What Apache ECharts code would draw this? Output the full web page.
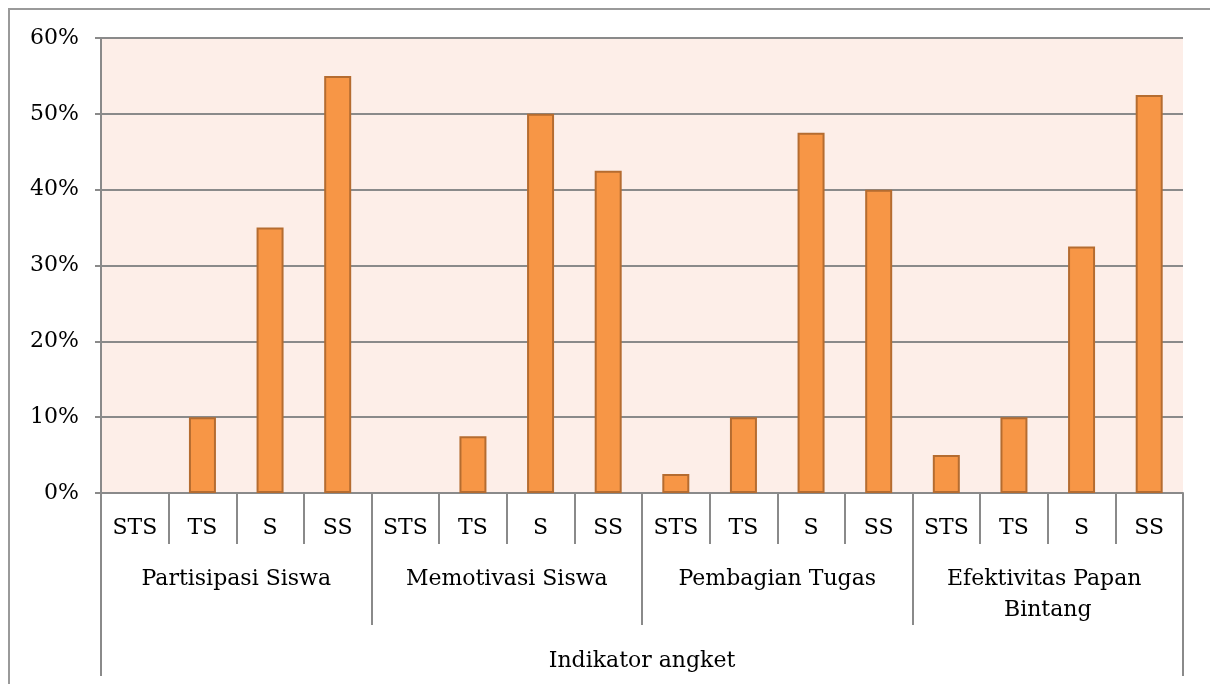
<!DOCTYPE html>
<html>
<head>
<meta charset="utf-8">
<script src="https://cdn.jsdelivr.net/npm/echarts@6/dist/echarts.min.js"></script>
<style>
html,body{margin:0;padding:0;background:#fff;overflow:hidden;}
#frame{position:absolute;left:8px;top:8px;width:1230px;height:720px;border:2px solid #9a9a9a;box-sizing:border-box;}
#chart{position:absolute;left:0;top:0;width:1210px;height:684px;}
</style>
</head>
<body>
<div id="frame"></div>
<div id="chart"></div>
<script>
const responses = ["STS", "TS", "S", "SS"];
const groups = ["Partisipasi Siswa", "Memotivasi Siswa", "Pembagian Tugas", "Efektivitas Papan Bintang"];
const axisTitle = ["Indikator angket"];
const partisipasi = [0, 10, 35, 55];
const memotivasi = [0, 7.5, 50, 42.5];
const pembagian = [2.5, 10, 47.5, 40];
const efektivitas = [5, 10, 32.5, 52.5];
const yTicks = [0, 10, 20, 30, 40, 50, 60];

const categories = [];
groups.forEach(() => responses.forEach(r => categories.push(r)));
const values = [].concat(partisipasi, memotivasi, pembagian, efektivitas);
const barData = values.map(v => v === 0 ? {value: v, itemStyle: {borderWidth: 0}} : v);

const FONT = "DejaVu Serif";
const GRID = "#8a8a8a";

const chart = echarts.init(document.getElementById('chart'), null, {renderer: 'canvas'});
chart.setOption({
  animation: false,
  backgroundColor: 'transparent',
  grid: {
    left: 101, right: 27, top: 38, bottom: 191,
    show: true, backgroundColor: '#fdeee8', borderWidth: 0
  },
  xAxis: [
    {
      type: 'category', data: categories, position: 'bottom',
      axisLine: {show: true, lineStyle: {color: GRID, width: 2}},
      axisTick: {show: true, interval: 0, length: 51, lineStyle: {color: GRID, width: 2}},
      axisLabel: {interval: 0, margin: 24, color: '#000', fontFamily: FONT, fontSize: 22}
    },
    {
      type: 'category', data: groups, position: 'bottom',
      axisLine: {show: false},
      axisTick: {show: true, interval: 0, length: 132, lineStyle: {color: GRID, width: 2}},
      axisLabel: {interval: 0, margin: 71, color: '#000', fontFamily: FONT, fontSize: 22,
        width: 235, overflow: 'break', lineHeight: 31}
    },
    {
      type: 'category', data: axisTitle, position: 'bottom',
      axisLine: {show: false},
      axisTick: {show: true, interval: 0, length: 183, lineStyle: {color: GRID, width: 2}},
      axisLabel: {interval: 0, margin: 157, color: '#000', fontFamily: FONT, fontSize: 22}
    }
  ],
  yAxis: {
    type: 'value', min: 0, max: 60, interval: 10,
    axisLine: {show: true, lineStyle: {color: GRID, width: 2}},
    axisTick: {show: true, length: 6, lineStyle: {color: GRID, width: 2}},
    axisLabel: {margin: 22, color: '#000', fontFamily: FONT, fontSize: 22,
      formatter: v => yTicks.includes(v) ? v + '%' : ''},
    splitLine: {show: true, lineStyle: {color: GRID, width: 2}}
  },
  series: [{
    type: 'bar', xAxisIndex: 0, data: barData, barWidth: 27,
    itemStyle: {color: '#f79646', borderColor: '#b56c30', borderWidth: 2}
  }]
});
</script>
</body>
</html>
